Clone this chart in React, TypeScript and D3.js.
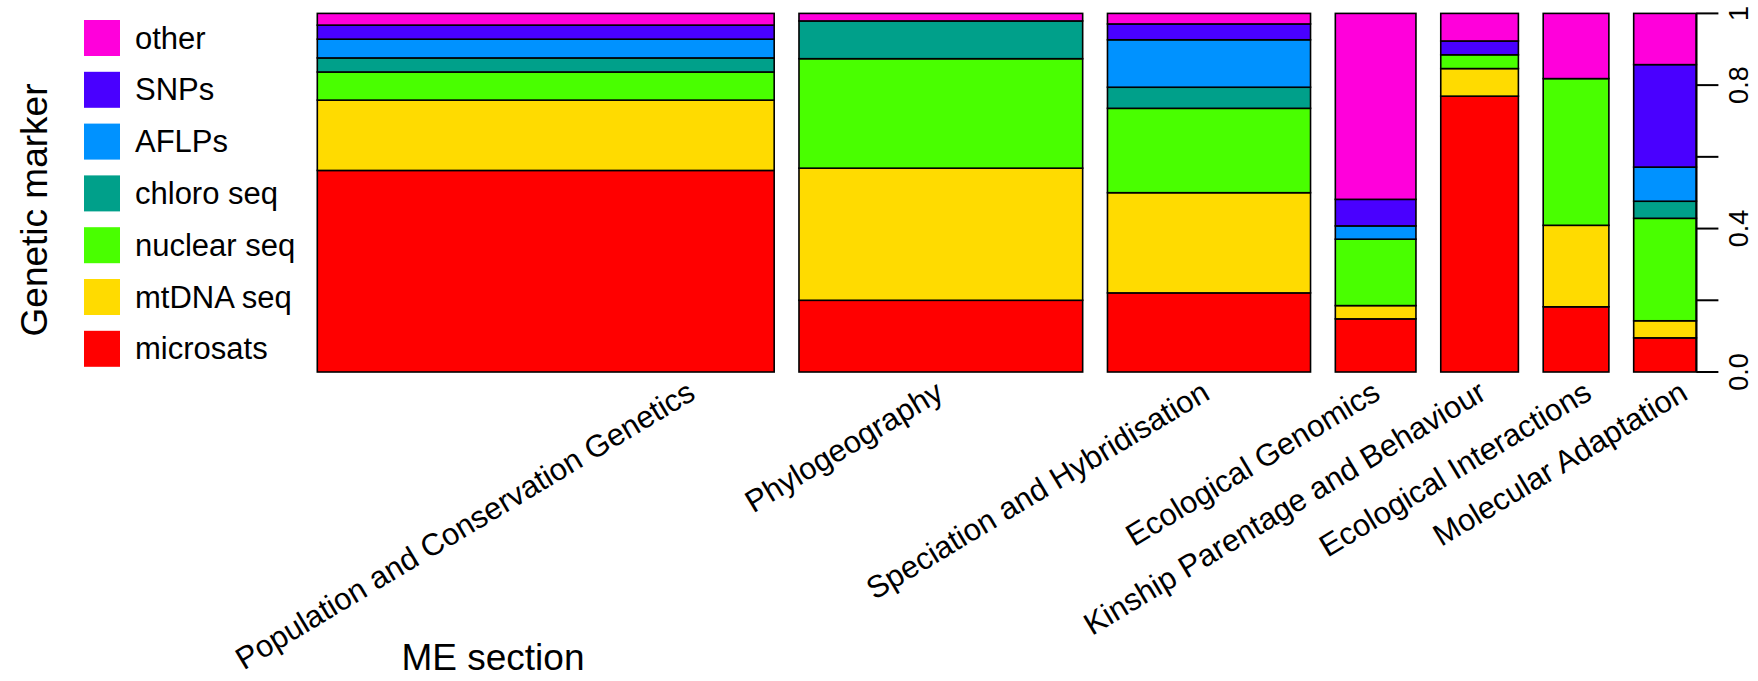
import React from 'react';
import * as d3 from 'd3';

// ME sections (x categories)
const sections = [
  'Population and Conservation Genetics',
  'Phylogeography',
  'Speciation and Hybridisation',
  'Ecological Genomics',
  'Kinship Parentage and Behaviour',
  'Ecological Interactions',
  'Molecular Adaptation',
];

// Genetic marker types, stacked bottom to top
const markers = ['microsats', 'mtDNA seq', 'nuclear seq', 'chloro seq', 'AFLPs', 'SNPs', 'other'];

// Number of papers using each marker, per section (same order as `sections`)
const microsats = [86, 19, 15, 4, 20, 4, 2];
const mtdnaSeq = [30, 35, 19, 1, 2, 5, 1];
const nuclearSeq = [12, 29, 16, 5, 1, 9, 6];
const chloroSeq = [6, 10, 4, 0, 0, 0, 1];
const aflps = [8, 0, 9, 1, 0, 0, 2];
const snps = [6, 0, 3, 2, 1, 0, 6];
const other = [5, 2, 2, 14, 2, 4, 3];

const yTicks = [0, 0.2, 0.4, 0.6, 0.8, 1];
const yTickLabels = ['0.0', '', '0.4', '', '0.8', '1'];

const markerColors = ['#FF0000', '#FFDB00', '#49FF00', '#00A08A', '#0092FF', '#4900FF', '#FF00DB'];

// layout
const W = 1758;
const H = 681;
const plotLeft = 317.3;
const plotRight = 1696.4;
const plotTop = 13.4;
const plotBottom = 372;
const gapPx = 24.8;
const labelY = 389;
const labelAngle = 31;
const labelNudge = [146, -1, -3, 1, 3, 12, 19];
const FONT = '"Liberation Sans", Arial, Helvetica, sans-serif';

export default function App() {
  const seriesValues = [microsats, mtdnaSeq, nuclearSeq, chloroSeq, aflps, snps, other];
  const table = sections.map((s, i) => {
    const row: Record<string, any> = { section: s };
    markers.forEach((m, j) => {
      row[m] = seriesValues[j][i];
    });
    return row;
  });
  const totals = table.map((r) => d3.sum(markers, (m) => r[m] as number));

  const stacked = d3
    .stack<Record<string, any>>()
    .keys(markers)
    .offset(d3.stackOffsetExpand)(table);

  // x: bar widths proportional to section totals, constant gaps between bars
  const totalN = d3.sum(totals);
  const unitPx = (plotRight - plotLeft - gapPx * (sections.length - 1)) / totalN;
  const gapUnits = gapPx / unitPx;
  const x = d3
    .scaleLinear()
    .domain([0, totalN + gapUnits * (sections.length - 1)])
    .range([plotLeft, plotRight]);
  const starts: number[] = [];
  let acc = 0;
  totals.forEach((t) => {
    starts.push(acc);
    acc += t + gapUnits;
  });

  const y = d3.scaleLinear().domain([0, 1]).range([plotBottom, plotTop]);

  const legendOrder = [...markers.keys()].reverse();

  return (
    <svg
      width={W}
      height={H}
      style={{ position: 'absolute', left: 0, top: 0, background: '#fff' }}
      fontFamily={FONT}
    >
      {/* stacked proportional bars */}
      {stacked.map((layer, j) =>
        layer.map((d, i) => {
          if (d[1] - d[0] <= 0) return null;
          const x0 = x(starts[i]);
          const x1 = x(starts[i] + totals[i]);
          return (
            <rect
              key={`${j}-${i}`}
              x={x0}
              y={y(d[1])}
              width={x1 - x0}
              height={y(d[0]) - y(d[1])}
              fill={markerColors[j]}
              stroke="#000"
              strokeWidth={1.6}
            />
          );
        })
      )}

      {/* right-hand y axis */}
      <line x1={plotRight} x2={plotRight} y1={y(0)} y2={y(1)} stroke="#000" strokeWidth={2} />
      {yTicks.map((t, i) => (
        <g key={t}>
          <line x1={plotRight} x2={plotRight + 22} y1={y(t)} y2={y(t)} stroke="#000" strokeWidth={2} />
          {yTickLabels[i] && (
            <text
              transform={`translate(${plotRight + 52},${y(t)}) rotate(-90)`}
              textAnchor="middle"
              fontSize={27}
            >
              {yTickLabels[i]}
            </text>
          )}
        </g>
      ))}

      {/* section labels */}
      {sections.map((s, i) => {
        const cx = (x(starts[i]) + x(starts[i] + totals[i])) / 2 + labelNudge[i];
        return (
          <text
            key={s}
            transform={`translate(${cx},${labelY}) rotate(${-labelAngle})`}
            textAnchor="end"
            dominantBaseline="central"
            fontSize={31}
          >
            {s}
          </text>
        );
      })}

      {/* legend */}
      {legendOrder.map((j, k) => {
        const cy = 38 + k * 51.8;
        return (
          <g key={markers[j]}>
            <rect x={84} y={cy - 18} width={36} height={36} fill={markerColors[j]} />
            <text x={135} y={cy} dominantBaseline="central" fontSize={31}>
              {markers[j]}
            </text>
          </g>
        );
      })}

      {/* axis titles */}
      <text transform="translate(47,210) rotate(-90)" textAnchor="middle" fontSize={37}>
        Genetic marker
      </text>
      <text x={493} y={670} textAnchor="middle" fontSize={37}>
        ME section
      </text>
    </svg>
  );
}
